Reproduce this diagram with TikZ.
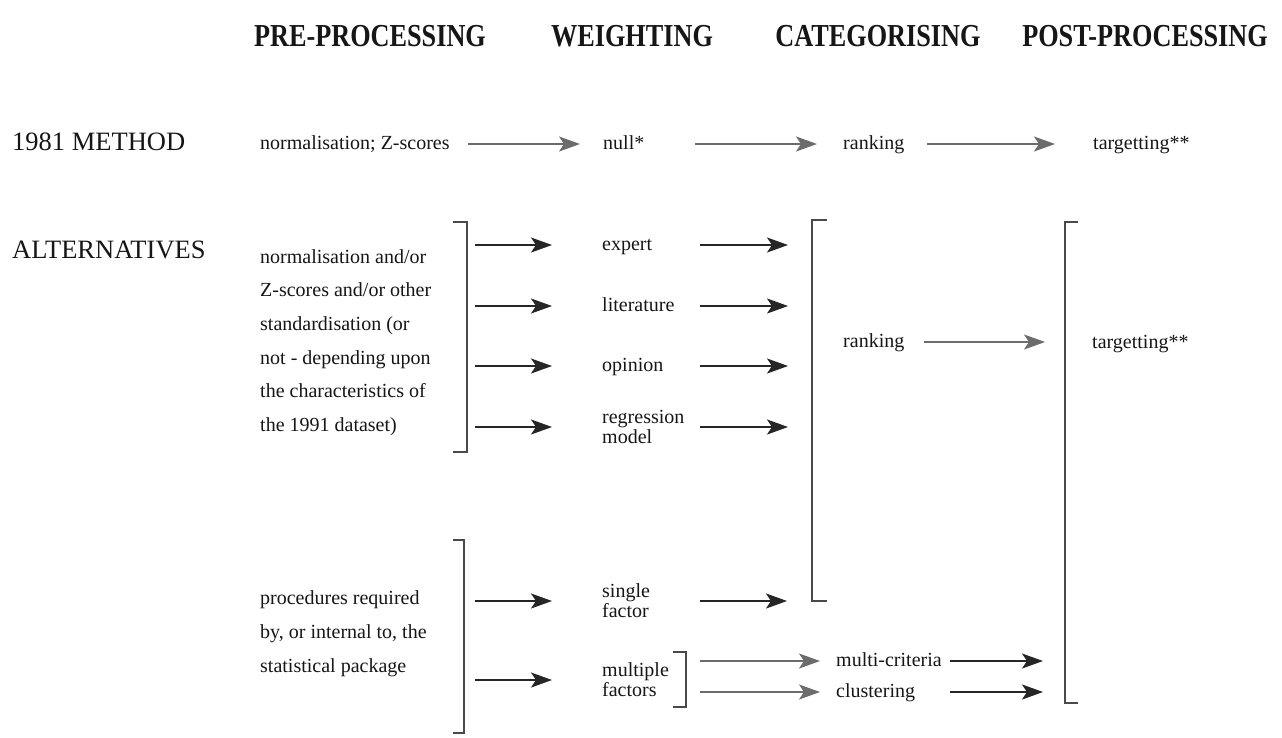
\documentclass[tikz,border=0pt]{standalone}
\usepackage{fontspec}
\setmainfont{Liberation Serif}
\newfontfamily\hdrfont{Liberation Serif}[FakeStretch=0.82]
\usetikzlibrary{arrows.meta}
\definecolor{ink}{HTML}{161616}
\definecolor{darkarr}{HTML}{262626}
\definecolor{greyarr}{HTML}{6C6C6C}
\definecolor{brk}{HTML}{4A4A4A}
\begin{document}
\begin{tikzpicture}[x=1pt,y=-1pt,
  hdr/.style={font=\hdrfont\bfseries\fontsize{32}{32}\selectfont, text=ink, inner sep=0pt},
  rowlbl/.style={font=\fontsize{26.5}{27}\selectfont, text=ink, anchor=west, inner sep=0pt, text height=18pt, text depth=5pt},
  txt/.style={font=\fontsize{20}{20}\selectfont, text=ink, anchor=west, inner sep=0pt, align=left},
  one/.style={text height=14pt, text depth=4pt},
  para/.style={txt, anchor=north west, font=\fontsize{20}{33.7}\selectfont},
  tipshape/.style={-{Stealth[length=21pt,width=15pt,inset=5pt]}},
  darr/.style={draw=darkarr, line width=2.2pt, tipshape},
  garr/.style={draw=greyarr, line width=2pt, tipshape},
  bracket/.style={draw=brk, line width=1.6pt}]
\fill[white] (0,0) rectangle (1282,737);
\useasboundingbox (0,0) rectangle (1282,737);

% headers
\node[hdr] (hpre)  at (370,36)  {PRE-PROCESSING};
\node[hdr] (hwei)  at (632,36)  {WEIGHTING};
\node[hdr] (hcat)  at (878,36)  {CATEGORISING};
\node[hdr] (hpost) at (1145,36) {POST-PROCESSING};

% 1981 method row
\node[rowlbl] (m81) at (12,144) {1981 METHOD};
\node[txt,one] (norm81) at (260,144) {normalisation; Z-scores};
\node[txt,one] (null)   at (603,144) {null*};
\node[txt,one] (rank81) at (843,144) {ranking};
\node[txt,one] (targ81) at (1093,144) {targetting**};
\draw[garr] ([xshift=18pt]norm81.east) -- ([xshift=-23pt]null.west);
\draw[garr] ([xshift=92pt]null.west) -- ([xshift=-26pt]rank81.west);
\draw[garr] ([xshift=84pt]rank81.west) -- ([xshift=-38pt]targ81.west);

% alternatives
\node[rowlbl] (alt) at (12,252) {ALTERNATIVES};
\node[para] (std) at (260,249) {normalisation and/or\\Z-scores and/or other\\standardisation (or\\not - depending upon\\the characteristics of\\the 1991 dataset)};

\coordinate (b1t) at (467,222);
\coordinate (b1b) at (467,452);
\draw[bracket] ([xshift=-14pt]b1t) -- (b1t) -- (b1b) -- ([xshift=-14pt]b1b);

\node[txt,one] (exp) at (602,245) {expert};
\node[txt,one] (lit) at (602,306) {literature};
\node[txt,one] (opi) at (602,366) {opinion};
\node[txt] (reg) at (602,427) {regression\\model};

\foreach \n in {exp,lit,opi,reg}
  \draw[darr] ([xshift=8pt]b1t |- \n.west) -- ([xshift=-50pt]\n.west);

\coordinate (c1t) at (812,220);
\coordinate (c1b) at (812,601);
\draw[bracket] ([xshift=15pt]c1t) -- (c1t) -- (c1b) -- ([xshift=15pt]c1b);

\foreach \n in {exp,lit,opi,reg}
  \draw[darr] ([xshift=98pt]\n.west) -- ([xshift=-24pt]c1t |- \n.west);

\node[txt,one] (rank2) at (843,342) {ranking};
\coordinate (t1t) at (1065,222);
\coordinate (t1b) at (1065,703);
\draw[bracket] ([xshift=13pt]t1t) -- (t1t) -- (t1b) -- ([xshift=13pt]t1b);
\node[txt,one] (targ2) at (1092,343) {targetting**};
\draw[garr] ([xshift=81pt]rank2.west) -- ([xshift=-20pt]t1t |- rank2.west);

% lower block
\node[para, font=\fontsize{20}{34}\selectfont] (proc) at (260,590) {procedures required\\by, or internal to, the\\statistical package};
\coordinate (b2t) at (464,540);
\coordinate (b2b) at (464,733);
\draw[bracket] ([xshift=-11pt]b2t) -- (b2t) -- (b2b) -- ([xshift=-11pt]b2b);

\node[txt] (sing) at (602,601) {single\\factor};
\node[txt] (mult) at (602,680) {multiple\\factors};
\draw[darr] ([xshift=11pt]b2t |- sing.west) -- ([xshift=-50pt]sing.west);
\draw[darr] ([xshift=11pt]b2t |- mult.west) -- ([xshift=-50pt]mult.west);
\draw[darr] ([xshift=98pt]sing.west) -- ([xshift=-25pt]c1b |- sing.west);

\coordinate (mbt) at (686,652);
\coordinate (mbb) at (686,707);
\draw[bracket] ([xshift=-13pt]mbt) -- (mbt) -- (mbb) -- ([xshift=-13pt]mbb);

\node[txt,one] (mc) at (836,661) {multi-criteria};
\node[txt,one] (cl) at (836,692) {clustering};
\draw[garr] ([xshift=14pt]mbt |- mc.west) -- ([xshift=-16pt]mc.west);
\draw[garr] ([xshift=14pt]mbt |- cl.west) -- ([xshift=-16pt]cl.west);
\draw[darr] ([xshift=114pt]mc.west) -- ([xshift=-22pt]t1t |- mc.west);
\draw[darr] ([xshift=114pt]cl.west) -- ([xshift=-22pt]t1t |- cl.west);
\end{tikzpicture}
\end{document}
